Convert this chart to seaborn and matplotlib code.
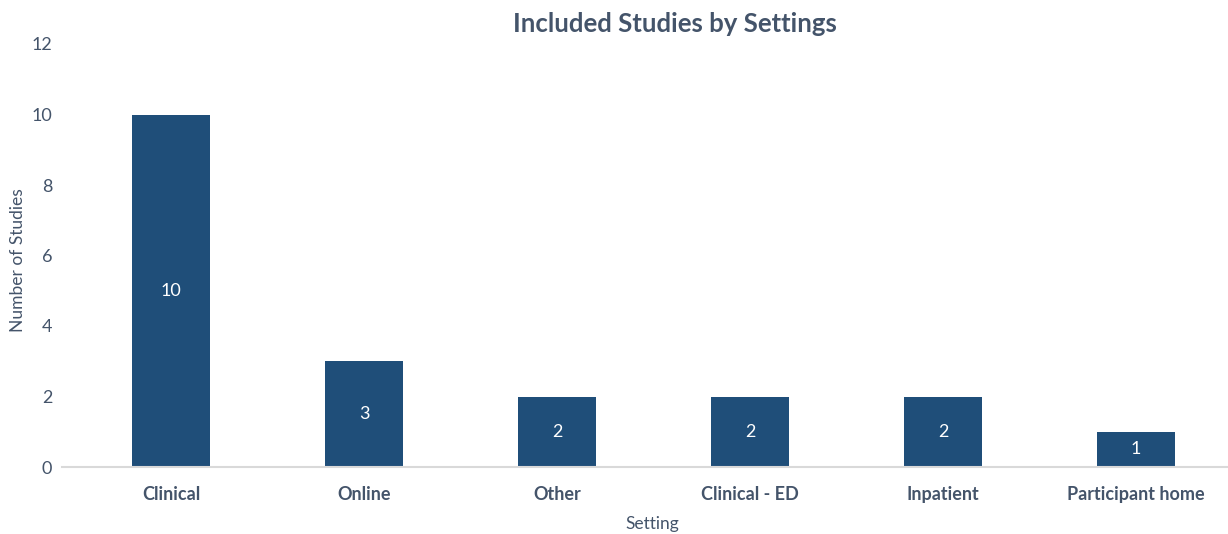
import matplotlib
matplotlib.use("Agg")
import matplotlib.pyplot as plt
import seaborn as sns
import pandas as pd

categories = ["Clinical", "Online", "Other", "Clinical - ED", "Inpatient", "Participant home"]
counts = [10, 3, 2, 2, 2, 1]
y_ticks = [0, 2, 4, 6, 8, 10, 12]

sns.set_theme(style="white")
plt.rcParams['font.family'] = ['Lato', 'DejaVu Sans']

text_col = "#44546A"
bar_col = "#1F4E79"

df = pd.DataFrame({"Setting": categories, "Count": counts})

fig = plt.figure(figsize=(12.28, 5.34), dpi=100)
ax = fig.add_axes([62/1228, 67/534, (1228-62)/1228, (467-44)/534])
sns.barplot(data=df, x="Setting", y="Count", color=bar_col, width=0.4,
            saturation=1, ax=ax, edgecolor="none")

ax.set_xlim(-0.565, 5.477)
ax.set_ylim(0, 12)
ax.set_yticks(y_ticks)
ax.set_yticklabels([str(t) for t in y_ticks], color=text_col, fontsize=13)
for lab in ax.get_xticklabels():
    lab.set_fontweight("bold")
    lab.set_color(text_col)
    lab.set_fontsize(13)
ax.tick_params(axis="both", length=0)
ax.tick_params(axis="x", pad=14)
ax.tick_params(axis="y", pad=7)

for s in ["top", "right", "left"]:
    ax.spines[s].set_visible(False)
ax.spines["bottom"].set_color("#D9D9D9")
ax.spines["bottom"].set_linewidth(1.5)

for i, v in enumerate(counts):
    ax.text(i, v / 2, str(v), ha="center", va="center", color="white", fontsize=13)

ax.set_xlabel("Setting", color=text_col, fontsize=12.5)
ax.xaxis.set_label_coords((652 - 62) / 1166, -(516 - 467) / 423)
ax.set_ylabel("Number of Studies", color=text_col, fontsize=12.5)
ax.yaxis.set_label_coords((26 - 62) / 1166, (467 - 260) / 423)
fig.text(675/1228, 1 - 24/534, "Included Studies by Settings", ha="center", va="center",
         color=text_col, fontsize=18.5, fontweight="bold")

fig.savefig("out.png", dpi=100)
